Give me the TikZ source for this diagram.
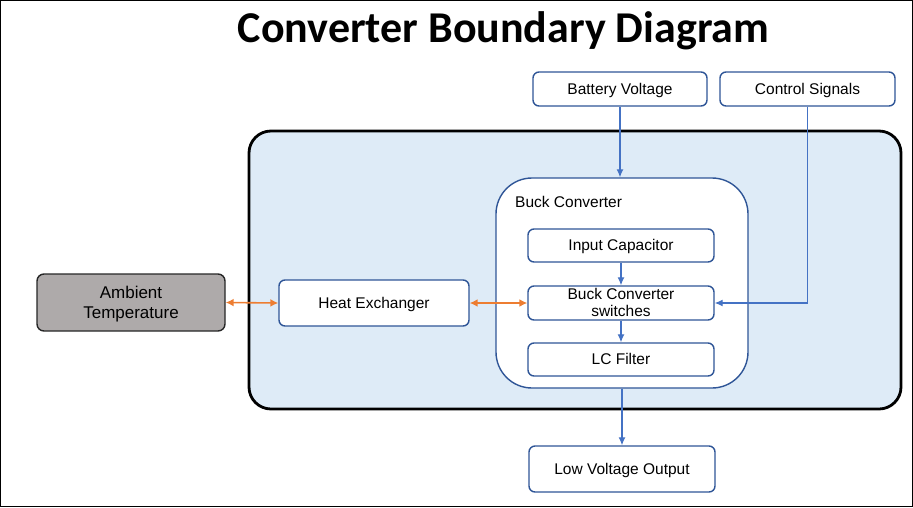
\documentclass[tikz,border=0pt]{standalone}
\usepackage{fontspec}
\setmainfont{Liberation Sans}
\newfontfamily\titlefont{Carlito}
\usetikzlibrary{arrows.meta}
\definecolor{boxblue}{HTML}{2F5597}
\definecolor{arrblue}{HTML}{4472C4}
\definecolor{bndfill}{HTML}{DEEBF7}
\definecolor{ambfill}{HTML}{AEAAAA}
\definecolor{orng}{HTML}{ED7D31}
\tikzset{
  blk/.style={draw=boxblue, line width=1.4pt, fill=white, rounded corners=6pt, inner sep=0pt, align=center, text depth=0.8pt, font=\fontsize{15.5}{17}\selectfont},
  barr/.style={draw=arrblue, line width=1.2pt, -{Latex[length=8pt,width=7pt]}},
  oarr/.style={draw=orng, line width=1.8pt, {Latex[length=8pt,width=8pt]}-{Latex[length=8pt,width=8pt]}},
}
\begin{document}
\begin{tikzpicture}[x=1pt,y=-1pt]
\useasboundingbox (0,0) rectangle (913,507);
\draw[black, line width=1.2pt] (0.6,0.6) rectangle (912.4,506.4);
\node[anchor=base, font=\titlefont\bfseries\fontsize{44}{48}\selectfont] (title) at (503.5,42) {Converter Boundary Diagram};
% boundary
\node[draw=black, line width=2.8pt, fill=bndfill, rounded corners=22pt, minimum width=652pt, minimum height=278pt, inner sep=0pt] (bnd) at (575,270) {};
% top inputs
\node[blk, minimum width=174pt, minimum height=34pt] (bat) at (620,89) {Battery Voltage};
\node[blk, minimum width=175pt, minimum height=34pt] (ctl) at (807.5,89) {Control Signals};
% buck container
\node[draw=boxblue, line width=1.4pt, fill=white, rounded corners=36pt, minimum width=252pt, minimum height=210pt, inner sep=0pt] (buck) at (622,283) {};
\node[anchor=base west, inner sep=0pt, font=\fontsize{15.5}{17}\selectfont] (bucklbl) at (515,207) {Buck Converter};
\node[blk, minimum width=186pt, minimum height=33pt] (cap) at (621,245.5) {Input Capacitor};
\node[blk, minimum width=186pt, minimum height=34pt] (sw) at (621,303) {Buck Converter\\switches};
\node[blk, minimum width=186pt, minimum height=33pt] (lc) at (621,359.5) {LC Filter};
% heat exchanger
\node[blk, minimum width=190pt, minimum height=46pt] (hx) at (374,303) {Heat Exchanger};
% ambient
\node[draw=black!85, line width=1.4pt, fill=ambfill, rounded corners=7pt, inner sep=0pt, minimum width=188pt, minimum height=57pt, align=center, text depth=0.8pt, font=\fontsize{17}{20}\selectfont] (amb) at (131,302.5) {Ambient\\Temperature};
% output
\node[blk, minimum width=186pt, minimum height=46pt] (out) at (622,469) {Low Voltage Output};
% connectors
\draw[barr] (bat.south) -- (bat.south |- buck.north);
\draw[barr] (ctl.south) |- (sw.east);
\draw[barr] (cap.south) -- (sw.north);
\draw[barr] (sw.south) -- (lc.north);
\draw[barr] (buck.south) -- (out.north);
\draw[oarr, line width=1.6pt] (amb.east) -- (hx.west);
\draw[oarr, line width=2.6pt] (hx.east) -- (sw.west);
\end{tikzpicture}
\end{document}
